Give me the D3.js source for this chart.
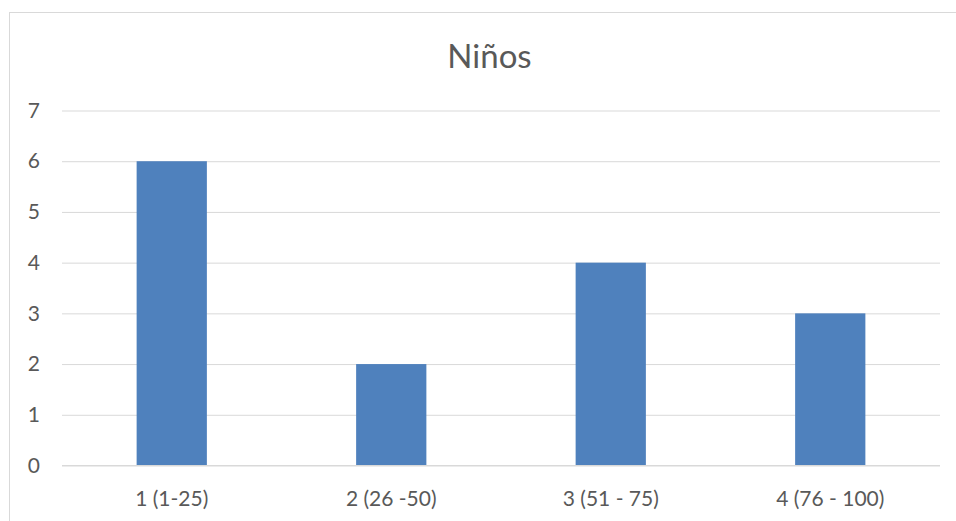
<!DOCTYPE html>
<html>
<head>
<meta charset="utf-8">
<script src="https://cdn.jsdelivr.net/npm/d3@7"></script>
<style>
  html, body { margin: 0; padding: 0; background: #fff; }
  svg { display: block; }
</style>
</head>
<body>
<svg id="chart" width="956" height="521"></svg>
<script>
const title = "Niños";
const categories = ["1 (1-25)", "2 (26 -50)", "3 (51 - 75)", "4 (76 - 100)"];
const values = [6, 2, 4, 3];
const yTicks = [0, 1, 2, 3, 4, 5, 6, 7];

const svg = d3.select("#chart");
const font = "Lato, 'Open Sans', sans-serif";
const textColor = "#595959";
const gridColor = "#d9d9d9";
const barColor = "#4f81bd";

// chart frame
svg.append("rect")
  .attr("x", 9.5).attr("y", 12.5)
  .attr("width", 960).attr("height", 520)
  .attr("fill", "#fff")
  .attr("stroke", gridColor).attr("stroke-width", 1);

const plot = { left: 62, right: 940, top: 110.5, bottom: 465.5 };

const x = d3.scaleBand()
  .domain(categories)
  .range([plot.left, plot.right])
  .paddingInner(0.68)
  .paddingOuter(0.34);

const y = d3.scaleLinear()
  .domain([0, 7])
  .range([plot.bottom, plot.top]);

// gridlines
const yAxis = d3.axisLeft(y)
  .tickValues(yTicks)
  .tickSize(-(plot.right - plot.left))
  .tickPadding(22)
  .tickFormat(d3.format("d"));

const gy = svg.append("g")
  .attr("transform", `translate(${plot.left},0)`)
  .call(yAxis);
gy.select(".domain").remove();
gy.selectAll(".tick line").attr("stroke", gridColor).attr("stroke-width", 1);
gy.selectAll(".tick text")
  .attr("fill", textColor)
  .style("font-family", font)
  .style("font-size", "21px");

// bars
svg.append("g").selectAll("rect")
  .data(values)
  .join("rect")
  .attr("x", (d, i) => x(categories[i]))
  .attr("width", x.bandwidth())
  .attr("y", d => y(d))
  .attr("height", d => y(0) - y(d))
  .attr("fill", barColor);

// x axis line
svg.append("line")
  .attr("x1", plot.left).attr("x2", plot.right)
  .attr("y1", y(0)).attr("y2", y(0))
  .attr("stroke", gridColor).attr("stroke-width", 1);

// x axis labels
const xAxis = d3.axisBottom(x).tickSize(0).tickPadding(26);
const gx = svg.append("g")
  .attr("transform", `translate(0,${plot.bottom})`)
  .call(xAxis);
gx.select(".domain").remove();
gx.selectAll(".tick text")
  .attr("fill", textColor)
  .style("font-family", font)
  .style("font-size", "21px");

// title
svg.append("text")
  .attr("x", 489.5).attr("y", 68)
  .attr("text-anchor", "middle")
  .attr("fill", textColor)
  .style("font-family", font)
  .style("font-size", "33px")
  .text(title);
</script>
</body>
</html>
